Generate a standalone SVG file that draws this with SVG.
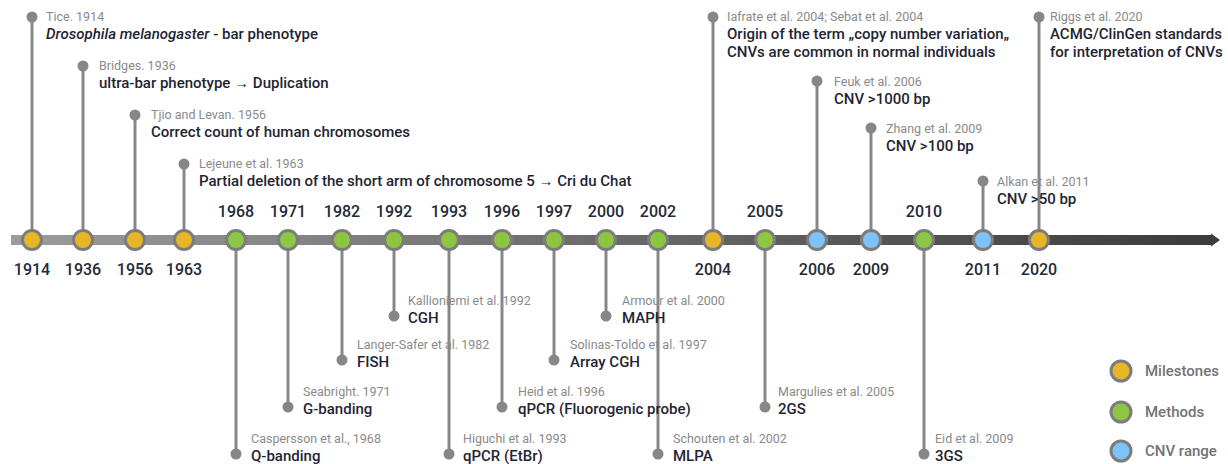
<svg xmlns="http://www.w3.org/2000/svg" width="1228" height="464" viewBox="0 0 1228 464">
<defs>
<linearGradient id="axisGrad" gradientUnits="userSpaceOnUse" x1="10" y1="0" x2="1220" y2="0">
<stop offset="0" stop-color="#9c9c9c"/>
<stop offset="0.5" stop-color="#6a6a6a"/>
<stop offset="1" stop-color="#3b3b3b"/>
</linearGradient>
<style>
text{font-family:Roboto,"Liberation Sans",sans-serif}
.cite{font-size:12.5px;fill:#8a8a8a}
.main{font-size:15px;font-weight:500;fill:#1f2533}
.yr{font-size:16px;font-weight:500;fill:#232a38;text-anchor:middle}
.leg{font-size:15px;font-weight:500;fill:#737373}
.stem{stroke:#878787;stroke-width:3;fill:none}
.dot{fill:#878787}
.node{stroke:#7c7c7c;stroke-width:3}
.mil{fill:#E6B528}
.met{fill:#8DC642}
.cnv{fill:#7DC3F6}
</style>
</defs>
<rect width="1228" height="464" fill="#fff"/>
<g id="axis">
<path d="M11,235 H1211 V233.5 L1220,240 L1211,246.5 V245 H11 Z" fill="url(#axisGrad)"/>
</g>
<g id="connectors">
<line class="stem" x1="32" y1="17" x2="32" y2="240"/><circle class="dot" cx="32" cy="17" r="5.5"/>
<line class="stem" x1="83" y1="66" x2="83" y2="240"/><circle class="dot" cx="83" cy="66" r="5.5"/>
<line class="stem" x1="135" y1="115" x2="135" y2="240"/><circle class="dot" cx="135" cy="115" r="5.5"/>
<line class="stem" x1="184" y1="164" x2="184" y2="240"/><circle class="dot" cx="184" cy="164" r="5.5"/>
<line class="stem" x1="713" y1="17" x2="713" y2="240"/><circle class="dot" cx="713" cy="17" r="5.5"/>
<line class="stem" x1="817" y1="81" x2="817" y2="240"/><circle class="dot" cx="817" cy="81" r="5.5"/>
<line class="stem" x1="871" y1="128" x2="871" y2="240"/><circle class="dot" cx="871" cy="128" r="5.5"/>
<line class="stem" x1="983" y1="181" x2="983" y2="240"/><circle class="dot" cx="983" cy="181" r="5.5"/>
<line class="stem" x1="1039" y1="17" x2="1039" y2="240"/><circle class="dot" cx="1039" cy="17" r="5.5"/>
<line class="stem" x1="236" y1="240" x2="236" y2="454"/><circle class="dot" cx="236" cy="454" r="5.5"/>
<line class="stem" x1="288" y1="240" x2="288" y2="407"/><circle class="dot" cx="288" cy="407" r="5.5"/>
<line class="stem" x1="342" y1="240" x2="342" y2="360"/><circle class="dot" cx="342" cy="360" r="5.5"/>
<line class="stem" x1="394" y1="240" x2="394" y2="316"/><circle class="dot" cx="394" cy="316" r="5.5"/>
<line class="stem" x1="449" y1="240" x2="449" y2="454"/><circle class="dot" cx="449" cy="454" r="5.5"/>
<line class="stem" x1="502" y1="240" x2="502" y2="407"/><circle class="dot" cx="502" cy="407" r="5.5"/>
<line class="stem" x1="554" y1="240" x2="554" y2="360"/><circle class="dot" cx="554" cy="360" r="5.5"/>
<line class="stem" x1="606" y1="240" x2="606" y2="316"/><circle class="dot" cx="606" cy="316" r="5.5"/>
<line class="stem" x1="658" y1="240" x2="658" y2="454"/><circle class="dot" cx="658" cy="454" r="5.5"/>
<line class="stem" x1="765" y1="240" x2="765" y2="407"/><circle class="dot" cx="765" cy="407" r="5.5"/>
<line class="stem" x1="924" y1="240" x2="924" y2="454"/><circle class="dot" cx="924" cy="454" r="5.5"/>
</g>
<g id="n1914"><circle class="node mil" cx="32" cy="240" r="9.5"/><text class="yr" x="32" y="275">1914</text>
<text class="cite" x="46" y="21">Tice. 1914</text><text class="main" x="46" y="39"><tspan font-style="italic">Drosophila melanogaster</tspan> - bar phenotype</text></g>
<g id="n1936"><circle class="node mil" cx="83" cy="240" r="9.5"/><text class="yr" x="83" y="275">1936</text>
<text class="cite" x="99" y="70">Bridges. 1936</text><text class="main" x="99" y="88">ultra-bar phenotype → Duplication</text></g>
<g id="n1956"><circle class="node mil" cx="135" cy="240" r="9.5"/><text class="yr" x="135" y="275">1956</text>
<text class="cite" x="151" y="119">Tjio and Levan. 1956</text><text class="main" x="151" y="137">Correct count of human chromosomes</text></g>
<g id="n1963"><circle class="node mil" cx="184" cy="240" r="9.5"/><text class="yr" x="184" y="275">1963</text>
<text class="cite" x="199" y="168">Lejeune et al. 1963</text><text class="main" x="199" y="186">Partial deletion of the short arm of chromosome 5 → Cri du Chat</text></g>
<g id="n1968"><circle class="node met" cx="236" cy="240" r="9.5"/><text class="yr" x="236" y="217">1968</text>
<text class="cite" x="251" y="443">Caspersson et al., 1968</text><text class="main" x="251" y="461">Q-banding</text></g>
<g id="n1971"><circle class="node met" cx="288" cy="240" r="9.5"/><text class="yr" x="288" y="217">1971</text>
<text class="cite" x="303" y="396">Seabright. 1971</text><text class="main" x="303" y="414">G-banding</text></g>
<g id="n1982"><circle class="node met" cx="342" cy="240" r="9.5"/><text class="yr" x="342" y="217">1982</text>
<text class="cite" x="357" y="349">Langer-Safer et al. 1982</text><text class="main" x="357" y="367">FISH</text></g>
<g id="n1992"><circle class="node met" cx="394" cy="240" r="9.5"/><text class="yr" x="394" y="217">1992</text>
<text class="cite" x="408" y="305">Kallioniemi et al. 1992</text><text class="main" x="408" y="323">CGH</text></g>
<g id="n1993"><circle class="node met" cx="449" cy="240" r="9.5"/><text class="yr" x="449" y="217">1993</text>
<text class="cite" x="463" y="443">Higuchi et al. 1993</text><text class="main" x="463" y="461">qPCR (EtBr)</text></g>
<g id="n1996"><circle class="node met" cx="502" cy="240" r="9.5"/><text class="yr" x="502" y="217">1996</text>
<text class="cite" x="518" y="396">Heid et al. 1996</text><text class="main" x="518" y="414">qPCR (Fluorogenic probe)</text></g>
<g id="n1997"><circle class="node met" cx="554" cy="240" r="9.5"/><text class="yr" x="554" y="217">1997</text>
<text class="cite" x="570" y="349">Solinas-Toldo et al. 1997</text><text class="main" x="570" y="367">Array CGH</text></g>
<g id="n2000"><circle class="node met" cx="606" cy="240" r="9.5"/><text class="yr" x="606" y="217">2000</text>
<text class="cite" x="622" y="305">Armour et al. 2000</text><text class="main" x="622" y="323">MAPH</text></g>
<g id="n2002"><circle class="node met" cx="658" cy="240" r="9.5"/><text class="yr" x="658" y="217">2002</text>
<text class="cite" x="673" y="443">Schouten et al. 2002</text><text class="main" x="673" y="461">MLPA</text></g>
<g id="n2004"><circle class="node mil" cx="713" cy="240" r="9.5"/><text class="yr" x="713" y="275">2004</text>
<text class="cite" x="727" y="21">Iafrate et al. 2004; Sebat et al. 2004</text><text class="main" x="727" y="39">Origin of the term „copy number variation„</text><text class="main" x="727" y="57">CNVs are common in normal individuals</text></g>
<g id="n2005"><circle class="node met" cx="765" cy="240" r="9.5"/><text class="yr" x="765" y="217">2005</text>
<text class="cite" x="778" y="396">Margulies et al. 2005</text><text class="main" x="778" y="414">2GS</text></g>
<g id="n2006"><circle class="node cnv" cx="817" cy="240" r="9.5"/><text class="yr" x="817" y="275">2006</text>
<text class="cite" x="834" y="86">Feuk et al. 2006</text><text class="main" x="834" y="104">CNV &gt;1000 bp</text></g>
<g id="n2009"><circle class="node cnv" cx="871" cy="240" r="9.5"/><text class="yr" x="871" y="275">2009</text>
<text class="cite" x="886" y="133">Zhang et al. 2009</text><text class="main" x="886" y="151">CNV &gt;100 bp</text></g>
<g id="n2010"><circle class="node met" cx="924" cy="240" r="9.5"/><text class="yr" x="924" y="217">2010</text>
<text class="cite" x="935" y="443">Eid et al. 2009</text><text class="main" x="935" y="461">3GS</text></g>
<g id="n2011"><circle class="node cnv" cx="983" cy="240" r="9.5"/><text class="yr" x="983" y="275">2011</text>
<text class="cite" x="997" y="186">Alkan et al. 2011</text><text class="main" x="997" y="204">CNV &gt;50 bp</text></g>
<g id="n2020"><circle class="node mil" cx="1039" cy="240" r="9.5"/><text class="yr" x="1039" y="275">2020</text>
<text class="cite" x="1050" y="21">Riggs et al. 2020</text><text class="main" x="1050" y="39">ACMG/ClinGen standards</text><text class="main" x="1050" y="57">for interpretation of CNVs</text></g>
<g id="legend">
<circle class="node mil" cx="1121" cy="371" r="10"/><text class="leg" x="1145" y="376">Milestones</text>
<circle class="node met" cx="1121" cy="412" r="10"/><text class="leg" x="1145" y="417">Methods</text>
<circle class="node cnv" cx="1121" cy="451" r="10"/><text class="leg" x="1145" y="456">CNV range</text>
</g>
</svg>
